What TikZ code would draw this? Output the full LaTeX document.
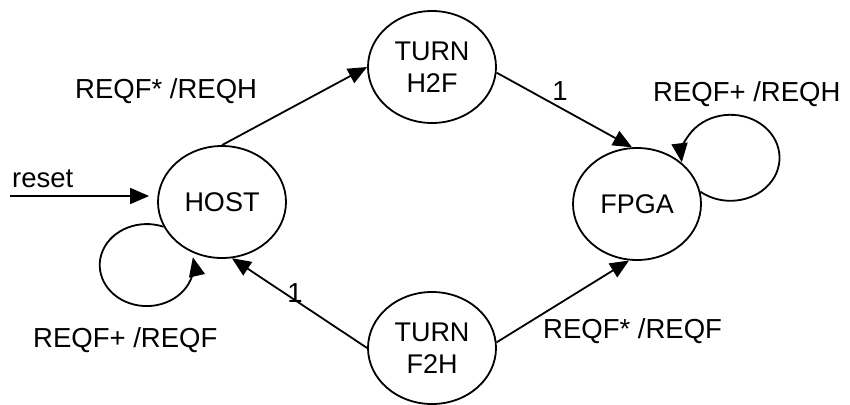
\documentclass[tikz,border=0pt]{standalone}
\usepackage{fontspec}
\setmainfont{Liberation Sans}
\usetikzlibrary{shapes.geometric,arrows.meta}

\begin{document}
\begin{tikzpicture}[x=1pt,y=-1pt,
  state/.style={ellipse, draw, line width=1.8pt, minimum width=128pt,
    minimum height=112pt, inner sep=0pt, align=center,
    font=\fontsize{27}{32}\selectfont},
  lbl/.style={inner sep=0pt, anchor=base west, font=\fontsize{27.5}{32}\selectfont},
  trans/.style={line width=1.8pt, -{Triangle[length=19pt,width=16pt]}},
]
\useasboundingbox (0,0) rectangle (850,404);

% states
\node[state] (host) at (222,202) {HOST};
\node[state] (h2f)  at (432,67)  {TURN\\H2F};
\node[state] (fpga) at (637,204) {FPGA};
\node[state] (f2h)  at (432,348) {TURN\\F2H};

% reset entry
\coordinate (rst) at (10,196);
\draw[trans, shorten >=8pt] (rst) -- (host.west |- rst);
\node[lbl] (lreset) at (12,187) {reset};

% transitions
\draw[trans] (host.north) -- (h2f.west);
\draw[trans] (h2f.-5) -- (fpga.95);
\draw[trans] (f2h.west) -- (host.-80);
\draw[trans] (f2h.5) -- (fpga.-98);

% self loops
\draw[trans] (host.203) arc[start angle=-69, end angle=-371, x radius=47, y radius=41];
\draw[trans] (fpga.11) arc[start angle=128, end angle=-186, x radius=49, y radius=43];

% transition labels
\node[lbl] (lhh) at (75,98)   {REQF* /REQH};
\node[lbl] (lfl) at (653,101) {REQF+ /REQH};
\node[lbl] (lhl) at (33,347)  {REQF+ /REQF};
\node[lbl] (lff) at (543,338) {REQF* /REQF};
\node[lbl, anchor=base] (lone) at (560,100) {1};
\node[lbl, anchor=base] (ltwo) at (295,302) {1};
\end{tikzpicture}
\end{document}
